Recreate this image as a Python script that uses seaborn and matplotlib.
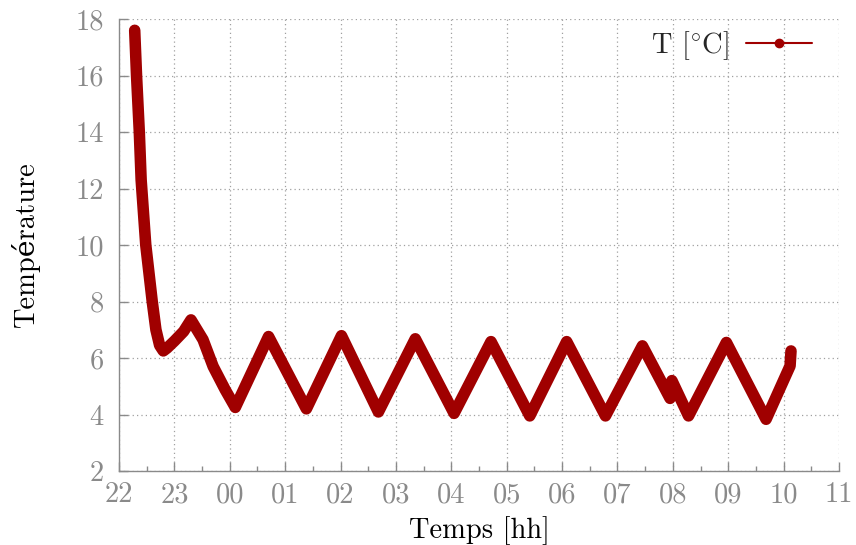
import matplotlib
matplotlib.use("Agg")
import matplotlib.pyplot as plt
import seaborn as sns
import pandas as pd
from matplotlib.lines import Line2D
from matplotlib.ticker import FixedLocator, MultipleLocator

# ---- data ----
times = ["22:17", "22:19", "22:22", "22:24", "22:29", "22:36", "22:40", "22:44",
         "22:48", "22:52", "23:00", "23:10", "23:18", "23:31", "23:42", "23:55",
         "00:06", "00:42", "01:23", "02:01", "02:41", "03:21", "04:03", "04:43",
         "05:25", "06:05", "06:47", "07:27", "07:57", "07:59", "08:17",
         "08:58", "09:41", "10:07", "10:08"]
temps = [17.6, 16.0, 14.0, 12.3, 10.0, 8.0, 7.0, 6.45,
         6.25, 6.35, 6.6, 6.94, 7.35, 6.65, 5.7, 4.88,
         4.25, 6.76, 4.2, 6.79, 4.09, 6.68, 4.04, 6.58,
         3.95, 6.58, 3.95, 6.43, 4.57, 5.2, 3.95,
         6.55, 3.83, 5.72, 6.25]
tick_labels = ["22", "23", "00", "01", "02", "03", "04", "05", "06",
               "07", "08", "09", "10", "11"]
y_ticks = [2, 4, 6, 8, 10, 12, 14, 16, 18]
series_name = r"T [$^{\circ}$C]"


def to_hours(s):
    h, m = map(int, s.split(":"))
    return ((h - 22) % 24) + m / 60.0


df = pd.DataFrame({"t": [to_hours(s) for s in times], "T": temps})

sns.set_theme(style="ticks")
plt.rcParams["font.family"] = ["cmr10", "DejaVu Serif"]
plt.rcParams["axes.formatter.use_mathtext"] = True
plt.rcParams["mathtext.fontset"] = "cm"
plt.rcParams["mathtext.rm"] = "cmr10"

LINE_COLOR = "#a00000"
GREY = "#8a8a8a"
FS = 20.5

fig = plt.figure(figsize=(8.56, 5.45), dpi=100)
ax = fig.add_axes([119 / 856, 74 / 545, 720 / 856, 452 / 545])

sns.lineplot(data=df, x="t", y="T", ax=ax, color=LINE_COLOR, linewidth=8.3,
             estimator=None, sort=False, legend=False,
             solid_capstyle="round", solid_joinstyle="round")

ax.set_xlim(0, 13)
ax.set_ylim(2, 18)
ax.xaxis.set_major_locator(FixedLocator(range(len(tick_labels))))
ax.set_xticklabels(tick_labels)
ax.xaxis.set_minor_locator(MultipleLocator(0.5))
ax.set_yticks(y_ticks)
ax.set_yticklabels([str(v) for v in y_ticks])

ax.grid(True, which="major", linestyle=(0, (1, 2.5)), color="#a0a0a0", linewidth=0.9)
ax.set_axisbelow(True)

for side in ["top", "right"]:
    ax.spines[side].set_visible(False)
for side in ["left", "bottom"]:
    ax.spines[side].set_color(GREY)
    ax.spines[side].set_linewidth(1.0)

ax.tick_params(axis="both", which="major", direction="in", length=6.5, width=1,
               color=GREY, labelcolor=GREY, labelsize=FS)
ax.tick_params(axis="x", which="minor", direction="in", length=3.5, width=1, color=GREY)
ax.tick_params(axis="x", which="major", pad=8)
ax.tick_params(axis="y", which="major", pad=11)

ax.set_xlabel("Temps [hh]", fontsize=FS, color="black", labelpad=5.5)
ax.set_ylabel("Température", fontsize=FS, color="black", labelpad=25)

handle = Line2D([], [], color=LINE_COLOR, linewidth=1.5, marker="o", markersize=6)
ax.legend([handle], [series_name], loc="upper right", frameon=False,
          markerfirst=False, fontsize=FS, handlelength=2.3,
          bbox_to_anchor=(0.998, 1.035), handletextpad=0.6)

fig.savefig("out.png", dpi=100)
